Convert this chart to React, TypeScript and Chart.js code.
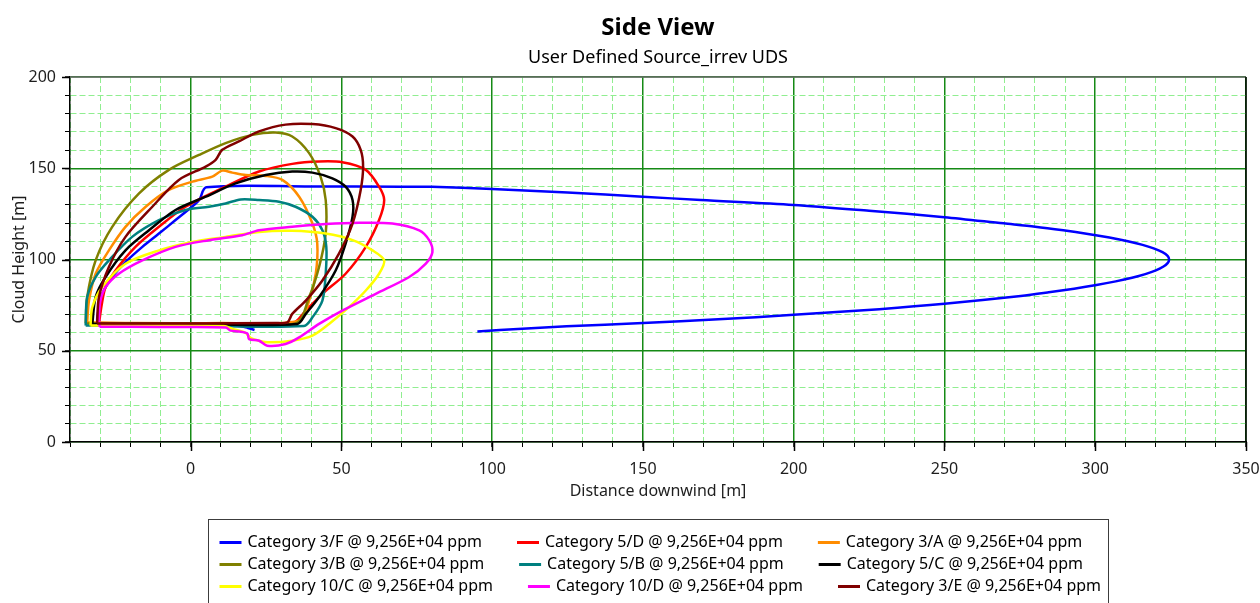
import React, { useEffect, useRef } from 'react';
import { Chart, registerables } from 'chart.js';

Chart.register(...registerables);

const FONT = "'Noto Sans', 'Open Sans', sans-serif";

const titleText = 'Side View';
const subtitleText = 'User Defined Source_irrev UDS';
const xAxisTitle = 'Distance downwind [m]';
const yAxisTitle = 'Cloud Height [m]';

const xMin = -40;
const xMax = 350;
const yMin = 0;
const yMax = 200;
const xMajorTicks = [0, 50, 100, 150, 200, 250, 300, 350];
const yMajorTicks = [0, 50, 100, 150, 200];

const seriesLabels = [
  'Category 3/F @ 9,256E+04 ppm',
  'Category 5/D @ 9,256E+04 ppm',
  'Category 3/A @ 9,256E+04 ppm',
  'Category 3/B @ 9,256E+04 ppm',
  'Category 5/B @ 9,256E+04 ppm',
  'Category 5/C @ 9,256E+04 ppm',
  'Category 10/C @ 9,256E+04 ppm',
  'Category 10/D @ 9,256E+04 ppm',
  'Category 3/E @ 9,256E+04 ppm',
];

const seriesColors = ['#0000FF', '#FF0000', '#FF8C00', '#808000', '#008080', '#000000', '#FFFF00', '#FF00FF', '#800000'];

const cat3F_x = [95.1, 110, 124.7, 150, 175, 200, 228.4, 250, 275.3, 284.6, 293, 300.4, 306.8, 312.2, 316.6, 320.1, 322.5, 324, 324.5, 324, 322.3, 319.6, 315.7, 310.8, 304.7, 297.6, 289.4, 280.1, 269.6, 250, 225, 200, 169.2, 150, 125, 100, 80, 69.8, 40, 5.2, 3, 1.7, -5, -10.5, -16, -21.6, -26, -29.3, -30.6, -30.9, -29, 0, 15, 19, 21.2];
const cat3F_y = [60.6, 62.1, 63.4, 65.2, 67.2, 69.7, 72.8, 75.7, 80, 82, 84, 86, 88, 90, 92, 94, 96, 98, 100, 102, 104, 106, 108, 110, 112, 114, 116, 118, 119.8, 123.2, 126.7, 129.9, 132.6, 134.4, 136.7, 138.6, 139.8, 139.9, 140, 139.6, 133, 130.7, 121.6, 114.2, 106.9, 98.6, 90.4, 81.2, 72, 65.5, 64.3, 64, 63.8, 62.5, 61.4];

const cat5D_x = [-30.4, -29.5, -28.2, -24.9, -18.3, -10.5, -1.7, 11.6, 22.7, 33.7, 42.6, 50.3, 58.1, 62.5, 64.2, 62.5, 58.1, 51.4, 43.7, 38.2, 33.7, 10, -20, -30.4];
const cat5D_y = [64.7, 75, 84.9, 94, 106.9, 117.9, 128.9, 139.9, 148.2, 152.4, 153.7, 153.3, 149.1, 139.9, 132.6, 121.6, 106.9, 92.2, 81.2, 72, 65, 64.8, 64.8, 64.7];

const cat3A_x = [-34.3, -33.7, -31.5, -27.1, -21.6, -14.9, -7.2, 0.6, 7.2, 10.5, 13.8, 18.3, 24.9, 30.4, 36, 40.4, 42, 41.5, 39.3, 36, 10, -20, -34.3];
const cat3A_y = [65.6, 77.5, 92.2, 105, 117.9, 128.9, 138.1, 142.7, 145.4, 148.7, 147.6, 146.3, 145.8, 143.6, 134.4, 119.7, 108.7, 92.2, 77.5, 66.5, 65.2, 65.2, 65.6];

const cat3B_x = [-34.8, -34.3, -31.5, -26, -17.1, -7.2, 2.8, 11.6, 20.5, 28.2, 33.7, 39.3, 43.1, 44.8, 44.8, 42.6, 39.3, 34.8, 0, -34.8];
const cat3B_y = [65, 79.4, 99.5, 117.9, 136.2, 149.1, 157.3, 163.8, 168.3, 169.6, 167.4, 158.3, 145.4, 132.6, 114.2, 95.9, 79.4, 65, 64.8, 65];

const cat5B_x = [-34.8, -34.3, -31.5, -27.1, -19.4, -10.5, -1.7, 6.1, 11.6, 16.6, 22.7, 29.3, 34.8, 40.4, 43.7, 45, 44.8, 43.7, 40.4, 37.6, 0, -34.8];
const cat5B_y = [63.8, 79.4, 90.4, 99.5, 112.4, 121.6, 127.1, 128.9, 130.7, 132.9, 132.6, 131.7, 128.9, 123.4, 116, 106.9, 92.2, 77.5, 68.3, 63.6, 63.8, 63.8];

const cat5C_x = [-32.6, -31.5, -28.2, -21.6, -13.8, -5, 5, 14.9, 24.9, 33.7, 40.4, 47, 51.4, 53.7, 53.7, 51.4, 48.1, 42.6, 38.2, 35.4, 0, -32.6];
const cat5C_y = [64.7, 79.4, 90.4, 105, 116, 127.1, 134.4, 141.7, 146.3, 148.2, 147.6, 144.5, 139.9, 132.6, 123.4, 108.7, 94, 79.4, 70.2, 64.7, 64.7, 64.7];

const cat10C_x = [-33.2, -32.6, -29.3, -21.6, -10.5, 0.6, 11.6, 22.7, 33.7, 44.8, 53.7, 60.3, 64.2, 62.5, 58.1, 52.5, 45.9, 40.4, 33.7, 26, 22.7, 20, 18, 14, 11, -10, -33.2];
const cat10C_y = [63.8, 73.9, 84.9, 97.7, 105, 109.6, 112.4, 115.1, 115.7, 114.2, 110.6, 105, 99.5, 92.2, 83, 73.9, 64.7, 58.3, 55.5, 54.6, 55.5, 57, 60, 62, 63.5, 63.8, 63.8];

const cat10D_x = [-30.2, -30.4, -29.9, -28.2, -23.8, -16, -5, 6.1, 17.1, 22.7, 33.7, 44.8, 55.9, 66.9, 75.8, 79.1, 80.2, 78, 72.5, 61.4, 50.3, 42.6, 36, 31.5, 25.4, 22.7, 19.4, 18.8, 16.1, 13.3, 11.6, -10, -30.2];
const cat10D_y = [63.2, 68.3, 77.5, 84.9, 92.2, 99.5, 106.9, 110.6, 113.3, 116, 117.9, 119.4, 120.1, 119.7, 116, 110.6, 104.1, 97.7, 90.4, 81.2, 72, 64.7, 57.3, 53.7, 52.8, 55.5, 56.4, 59.5, 60.6, 61, 62.8, 63, 63.2];

const cat3E_x = [-31, -30.4, -27.1, -21.6, -12.7, -3.9, 5, 8.3, 10.5, 16, 22.7, 31.5, 40.4, 48.1, 53.7, 56.4, 57.2, 56.4, 53.7, 49.2, 43.7, 38.2, 33.7, 32.1, 28, 0, -31];
const cat3E_y = [65, 79.4, 95.9, 112.4, 128.9, 143.6, 150.9, 154.6, 160.1, 164.7, 170.2, 173.9, 174.2, 172, 167.4, 160.1, 150.9, 138.1, 119.7, 103.2, 88.5, 77.5, 70.2, 65.6, 65.2, 65, 65];

const seriesX = [cat3F_x, cat5D_x, cat3A_x, cat3B_x, cat5B_x, cat5C_x, cat10C_x, cat10D_x, cat3E_x];
const seriesY = [cat3F_y, cat5D_y, cat3A_y, cat3B_y, cat5B_y, cat5C_y, cat10C_y, cat10D_y, cat3E_y];

const isMajor = (v: number) => Math.abs(v % 50) < 1e-6;

const decorPlugin = {
  id: 'decor',
  afterDraw(chart: any) {
    const { ctx, chartArea: ca, scales } = chart;
    ctx.save();
    // plot border (top and right)
    ctx.lineWidth = 1.5;
    ctx.strokeStyle = '#6a6a6a';
    ctx.beginPath();
    ctx.moveTo(ca.left, ca.top);
    ctx.lineTo(ca.right, ca.top);
    ctx.stroke();
    ctx.strokeStyle = '#000';
    ctx.beginPath();
    ctx.moveTo(ca.right, ca.top);
    ctx.lineTo(ca.right, ca.bottom);
    ctx.stroke();
    // longer major tick marks
    ctx.lineWidth = 1.5;
    ctx.strokeStyle = '#000';
    xMajorTicks.forEach((v) => {
      const px = Math.round(scales.x.getPixelForValue(v)) + 0.5;
      ctx.beginPath();
      ctx.moveTo(px, ca.bottom);
      ctx.lineTo(px, ca.bottom + 9);
      ctx.stroke();
    });
    yMajorTicks.forEach((v) => {
      const py = Math.round(scales.y.getPixelForValue(v)) + 0.5;
      ctx.beginPath();
      ctx.moveTo(ca.left, py);
      ctx.lineTo(ca.left - 8, py);
      ctx.stroke();
    });
    // titles centred on the plot area
    const cx = (ca.left + ca.right) / 2;
    ctx.fillStyle = '#000';
    ctx.textAlign = 'center';
    ctx.textBaseline = 'middle';
    ctx.font = `bold 24px ${FONT}`;
    ctx.fillText(titleText, cx, 28);
    ctx.font = `18px ${FONT}`;
    ctx.fillText(subtitleText, cx, 58);
    // boxed legend, 3 items per row
    ctx.font = `16px ${FONT}`;
    const items = chart.data.datasets.map((d: any) => ({ text: d.label, color: d.borderColor, w: ctx.measureText(d.label).width }));
    const lineLen = 22;
    const textGap = 6;
    const itemGap = 35;
    const perRow = 3;
    const rows: any[] = [];
    for (let i = 0; i < items.length; i += perRow) rows.push(items.slice(i, i + perRow));
    const rowWidths = rows.map((r) => r.reduce((s: number, it: any) => s + lineLen + textGap + it.w, 0) + itemGap * (r.length - 1));
    const boxW = Math.round(Math.max(...rowWidths) + 18);
    const boxLeft = Math.round(cx - boxW / 2) + 0.5;
    const boxTop = 519.5;
    ctx.lineWidth = 1;
    ctx.strokeStyle = '#3c3c3c';
    ctx.strokeRect(boxLeft, boxTop, boxW, 120);
    ctx.textAlign = 'left';
    rows.forEach((r, ri) => {
      const y = boxTop + 23 + ri * 22;
      let x = boxLeft + 11;
      r.forEach((it: any) => {
        ctx.strokeStyle = it.color;
        ctx.lineWidth = 3;
        ctx.beginPath();
        ctx.moveTo(x, y);
        ctx.lineTo(x + lineLen, y);
        ctx.stroke();
        ctx.fillStyle = '#000';
        ctx.fillText(it.text, x + lineLen + textGap, y);
        x += lineLen + textGap + it.w + itemGap;
      });
    });
    ctx.restore();
  },
};

export default function App() {
  const canvasRef = useRef<HTMLCanvasElement | null>(null);

  useEffect(() => {
    document.body.style.margin = '0';
    const canvas = canvasRef.current;
    if (!canvas) return;
    const datasets = seriesLabels.map((label, i) => ({
      label,
      data: seriesX[i].map((x, j) => ({ x, y: seriesY[i][j] })),
      borderColor: seriesColors[i],
      backgroundColor: seriesColors[i],
      borderWidth: 2.5,
      pointRadius: 0,
      showLine: true,
      fill: false,
      tension: 0.3,
      order: seriesLabels.length - i,
    }));

    const gridColor = (c: any) => (c.tick && isMajor(c.tick.value) ? '#158a15' : '#90EE90');
    const gridWidth = (c: any) => (c.tick && isMajor(c.tick.value) ? 1.5 : 1);
    const gridDash = (c: any) => (c.tick && !isMajor(c.tick.value) ? [6, 3] : []);

    const chart = new Chart(canvas, {
      type: 'scatter',
      data: { datasets },
      plugins: [decorPlugin],
      options: {
        animation: false,
        responsive: false,
        layout: { padding: { top: 77, left: 0, right: 14, bottom: 101 } },
        plugins: {
          legend: { display: false },
          title: { display: false },
          tooltip: { enabled: false },
        },
        scales: {
          x: {
            type: 'linear',
            min: xMin,
            max: xMax,
            afterFit: (s: any) => { s.height = 60; s.paddingRight = 0; s.paddingLeft = 0; },
            ticks: {
              stepSize: 10,
              autoSkip: false,
              maxRotation: 0,
              padding: 13,
              color: '#1e1e1e',
              font: { family: FONT, size: 16 },
              callback: (v: any) => (xMajorTicks.includes(Number(v)) ? String(v) : ''),
            },
            grid: {
              color: gridColor,
              lineWidth: gridWidth,
              tickColor: '#000',
              tickWidth: 1,
              tickLength: 5,
            },
            border: { display: true, color: '#000', width: 1.5, dash: gridDash },
            title: {
              display: true,
              text: xAxisTitle,
              color: '#1e1e1e',
              font: { family: FONT, size: 16 },
              padding: { top: 0, bottom: 1 },
            },
          },
          y: {
            type: 'linear',
            min: yMin,
            max: yMax,
            afterFit: (s: any) => { s.width = 70; },
            ticks: {
              stepSize: 10,
              autoSkip: false,
              padding: 9,
              color: '#1e1e1e',
              font: { family: FONT, size: 16 },
              callback: (v: any) => (yMajorTicks.includes(Number(v)) ? String(v) : ''),
            },
            grid: {
              color: gridColor,
              lineWidth: gridWidth,
              tickColor: '#000',
              tickWidth: 1,
              tickLength: 5,
            },
            border: { display: true, color: '#000', width: 1.5, dash: gridDash },
            title: {
              display: true,
              text: yAxisTitle,
              color: '#1e1e1e',
              font: { family: FONT, size: 16 },
              padding: { top: 10, bottom: 4 },
            },
          },
        },
      },
    } as any);
    return () => chart.destroy();
  }, []);

  return (
    <div style={{ position: 'fixed', left: 0, top: 0, width: 1260, height: 603, background: '#fff' }}>
      <canvas ref={canvasRef} width={1260} height={603} style={{ display: 'block' }} />
    </div>
  );
}
